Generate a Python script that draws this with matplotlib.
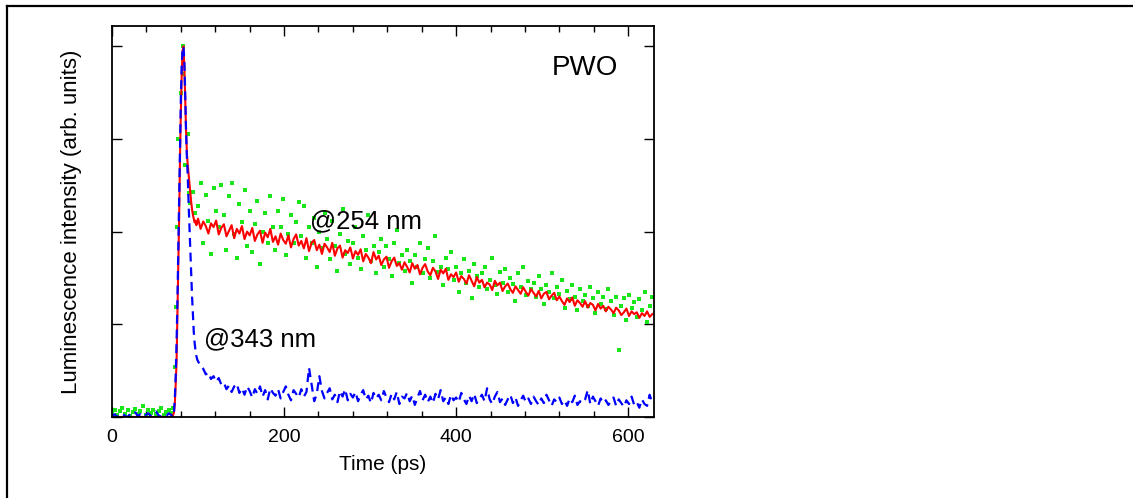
import numpy as np
import matplotlib
matplotlib.use("Agg")
import matplotlib.pyplot as plt
from matplotlib.lines import Line2D

plt.rcParams['font.family'] = ['Liberation Sans', 'DejaVu Sans']

# ---- data (intensity normalised so that the peak is 4 tick units) ----
# rise / peak region, 1 ps steps from 70 ps
t_pulse = np.arange(70, 100)
red_pulse = [0.00, 0.02, 0.05, 0.15, 0.35, 0.60, 1.10, 1.60, 2.15, 2.80,
             3.30, 3.70, 3.95, 4.00, 3.80, 3.45, 3.10, 2.85, 2.72, 2.62,
             2.52, 2.42, 2.32, 2.24, 2.18, 2.14, 2.10, 2.12, 2.07, 2.10]
blue_pulse = [0.00, 0.02, 0.06, 0.20, 0.45, 0.80, 1.25, 1.80, 2.40, 2.95,
              3.45, 3.80, 3.97, 4.00, 3.85, 3.50, 3.10, 2.80, 2.60, 2.30,
              2.05, 1.80, 1.55, 1.30, 1.10, 0.92, 0.80, 0.72, 0.66, 0.62]

# baseline before the pulse, 3 ps steps
t_base = np.arange(0, 70, 3)
green_base = [0.04, 0.08, 0.02, 0.06, 0.10, 0.03, 0.07, 0.01, 0.05, 0.09,
              0.03, 0.06, 0.12, 0.02, 0.07, 0.04, 0.08, 0.03, 0.06, 0.10,
              0.02, 0.05, 0.08, 0.04]
blue_base = [0.01, 0.03, 0.00, 0.02, 0.04, 0.01, 0.00, 0.03, 0.02, 0.05,
             0.01, 0.03, 0.00, 0.02, 0.04, 0.01, 0.03, 0.06, 0.02, 0.00,
             0.03, 0.01, 0.04, 0.02]

green_pulse_t = [71, 73, 74, 75, 77, 80.5, 82, 83, 85, 88, 89, 91, 94, 97]
green_pulse = [0.10, 0.54, 1.19, 2.05, 3.00, 3.50, 3.70, 4.00, 2.72, 3.05,
               2.42, 2.31, 2.43, 2.20]

# decay tail, 3 ps steps from 100 ps
t_tail = np.arange(100, 630, 3)
red_tail = [
    2.14, 2.03, 2.11, 2.06, 1.98, 2.09, 2.05, 2.12, 1.97, 2.04,
    2.08, 1.95, 2.01, 2.07, 1.93, 2.03, 1.98, 2.06, 1.92, 2.00,
    1.96, 2.04, 1.90, 1.97, 2.01, 1.88, 1.99, 1.94, 2.03, 1.89,
    1.95, 1.86, 1.98, 1.91, 1.87, 1.96, 1.83, 1.92, 1.97, 1.85,
    1.90, 1.82, 1.93, 1.79, 1.88, 1.91, 1.80, 1.86, 1.76, 1.87,
    1.83, 1.78, 1.88, 1.74, 1.82, 1.85, 1.72, 1.80, 1.77, 1.83,
    1.71, 1.79, 1.75, 1.81, 1.68, 1.76, 1.72, 1.66, 1.78, 1.70,
    1.74, 1.64, 1.70, 1.73, 1.61, 1.68, 1.72, 1.63, 1.66, 1.59,
    1.67, 1.62, 1.56, 1.66, 1.60, 1.64, 1.54, 1.61, 1.65, 1.57,
    1.53, 1.61, 1.57, 1.49, 1.59, 1.55, 1.60, 1.48, 1.54, 1.51,
    1.56, 1.46, 1.52, 1.49, 1.44, 1.53, 1.47, 1.41, 1.51, 1.45,
    1.48, 1.40, 1.45, 1.43, 1.37, 1.47, 1.42, 1.45, 1.36, 1.41,
    1.44, 1.38, 1.34, 1.41, 1.37, 1.33, 1.40, 1.35, 1.31, 1.38,
    1.34, 1.30, 1.36, 1.28, 1.33, 1.35, 1.27, 1.31, 1.34, 1.26,
    1.30, 1.25, 1.21, 1.28, 1.24, 1.29, 1.20, 1.26, 1.23, 1.19,
    1.25, 1.18, 1.23, 1.21, 1.15, 1.22, 1.17, 1.20, 1.14, 1.19,
    1.16, 1.12, 1.18, 1.15, 1.10, 1.13, 1.17, 1.09, 1.14, 1.11,
    1.13, 1.07, 1.12, 1.09, 1.14, 1.08, 1.11]
green_tail = [
    2.28, 2.52, 1.88, 2.40, 2.12, 1.76, 2.47, 2.22, 2.05, 2.50,
    2.18, 1.80, 2.38, 2.52, 1.98, 1.72, 2.30, 2.10, 2.45, 1.85,
    2.22, 1.78, 2.08, 2.33, 1.65, 2.00, 2.20, 1.88, 2.38, 2.05,
    1.80, 2.22, 2.05, 2.35, 1.75, 1.98, 2.18, 1.88, 2.10, 2.32,
    1.95, 2.28, 1.72, 2.05, 1.88, 2.15, 1.62, 2.00, 1.82, 2.20,
    1.92, 1.70, 2.12, 1.85, 1.58, 1.98, 2.25, 1.76, 1.90, 1.65,
    1.88, 2.05, 1.72, 1.60, 1.95, 1.80, 2.18, 1.68, 1.85, 1.55,
    1.78, 1.92, 1.62, 1.85, 1.70, 1.52, 1.88, 2.02, 1.66, 1.75,
    1.58, 1.80, 1.68, 1.45, 1.75, 1.62, 1.88, 1.55, 1.70, 1.82,
    1.50, 1.68, 1.95, 1.56, 1.62, 1.42, 1.72, 1.60, 1.78, 1.48,
    1.62, 1.35, 1.55, 1.70, 1.45, 1.58, 1.28, 1.65, 1.52, 1.40,
    1.55, 1.62, 1.38, 1.48, 1.72, 1.42, 1.33, 1.56, 1.45, 1.60,
    1.35, 1.50, 1.44, 1.25, 1.55, 1.40, 1.62, 1.32, 1.47, 1.38,
    1.45, 1.30, 1.52, 1.38, 1.22, 1.42, 1.35, 1.55, 1.28, 1.40,
    1.33, 1.48, 1.18, 1.36, 1.27, 1.42, 1.30, 1.15, 1.38, 1.25,
    1.32, 1.20, 1.40, 1.28, 1.12, 1.35, 1.22, 1.30, 1.17, 1.38,
    1.25, 1.10, 1.30, 0.72, 1.20, 1.28, 1.05, 1.32, 1.18, 1.24,
    1.08, 1.27, 1.15, 1.35, 1.02, 1.20, 1.30]
blue_tail = [
    0.60, 0.55, 0.52, 0.46, 0.48, 0.41, 0.44, 0.38, 0.42, 0.35,
    0.37, 0.30, 0.34, 0.27, 0.33, 0.36, 0.26, 0.31, 0.24, 0.33,
    0.28, 0.21, 0.30, 0.25, 0.33, 0.22, 0.29, 0.19, 0.31, 0.26,
    0.23, 0.30, 0.20, 0.27, 0.33, 0.24, 0.18, 0.29, 0.25, 0.21,
    0.30, 0.22, 0.27, 0.53, 0.35, 0.17, 0.25, 0.44, 0.28, 0.20,
    0.26, 0.31, 0.19, 0.24, 0.16, 0.28, 0.22, 0.30, 0.18, 0.25,
    0.21, 0.27, 0.17, 0.24, 0.29, 0.19, 0.23, 0.15, 0.26, 0.20,
    0.24, 0.18, 0.28, 0.21, 0.16, 0.25, 0.19, 0.27, 0.14, 0.22,
    0.20, 0.26, 0.17, 0.23, 0.13, 0.21, 0.28, 0.18, 0.24, 0.16,
    0.22, 0.15, 0.25, 0.19, 0.29, 0.17, 0.21, 0.14, 0.24, 0.18,
    0.21, 0.16, 0.26, 0.19, 0.14, 0.23, 0.17, 0.25, 0.15, 0.20,
    0.24, 0.17, 0.31, 0.19, 0.14, 0.22, 0.27, 0.16, 0.20, 0.13,
    0.19, 0.24, 0.15, 0.21, 0.12, 0.18, 0.23, 0.16, 0.20, 0.14,
    0.22, 0.17, 0.13, 0.20, 0.15, 0.24, 0.18, 0.12, 0.19, 0.16,
    0.21, 0.14, 0.18, 0.12, 0.20, 0.16, 0.23, 0.13, 0.17, 0.15,
    0.19, 0.29, 0.14, 0.22, 0.17, 0.12, 0.20, 0.15, 0.18, 0.13,
    0.17, 0.21, 0.12, 0.19, 0.15, 0.11, 0.18, 0.14, 0.22, 0.13,
    0.16, 0.10, 0.19, 0.14, 0.12, 0.24, 0.15]

# assemble series
red_t = np.concatenate([[0], t_pulse, t_tail])
red_y = np.concatenate([[0], red_pulse, red_tail])
blue_t = np.concatenate([t_base, t_pulse, t_tail])
blue_y = np.concatenate([blue_base, blue_pulse, blue_tail])
green_t = np.concatenate([t_base, green_pulse_t, t_tail])
green_y = np.concatenate([green_base, green_pulse, green_tail])

fig = plt.figure(figsize=(11.33, 4.98), dpi=100)
ax = fig.add_axes([0.0989, 0.1627, 0.4783, 0.7851])

ax.plot(green_t, green_y, linestyle='none', marker='s', markersize=2.2,
        color='#19e619', markeredgewidth=0)
ax.plot(red_t, red_y, color='red', linewidth=1.5)
ax.plot(blue_t, blue_y, color='#0000ff', linewidth=1.6, dashes=(4, 2.6))

ax.set_xlim(0, 630)
ax.set_ylim(0, 4.22)
ax.set_xticks([0, 200, 400, 600])
ax.set_xticks(np.arange(0, 631, 40), minor=True)
ax.set_yticks([0, 1, 2, 3, 4])
ax.set_yticklabels([])
ax.tick_params(which='both', direction='in', top=True, right=True,
               width=1.0, labelsize=14)
ax.tick_params(which='major', length=7)
ax.tick_params(which='minor', length=4)
ax.tick_params(axis='x', pad=9)
for s in ax.spines.values():
    s.set_linewidth(1.3)

ax.set_xlabel('Time (ps)', fontsize=15, labelpad=6)
ax.set_ylabel('Luminescence intensity (arb. units)', fontsize=16, labelpad=18)

ax.text(550, 3.77, 'PWO', fontsize=20, ha='center', va='center')
ax.text(230, 2.11, '@254 nm', fontsize=18.5, ha='left', va='center')
ax.text(107, 0.84, '@343 nm', fontsize=18.5, ha='left', va='center')

# partial outer frame (top and left edges)
fig.add_artist(Line2D([0.0062, 1.0], [0.988, 0.988], color='black', linewidth=1.6))
fig.add_artist(Line2D([0.0062, 0.0062], [0.0, 0.988], color='black', linewidth=1.6))

fig.savefig('out.png', dpi=100)
